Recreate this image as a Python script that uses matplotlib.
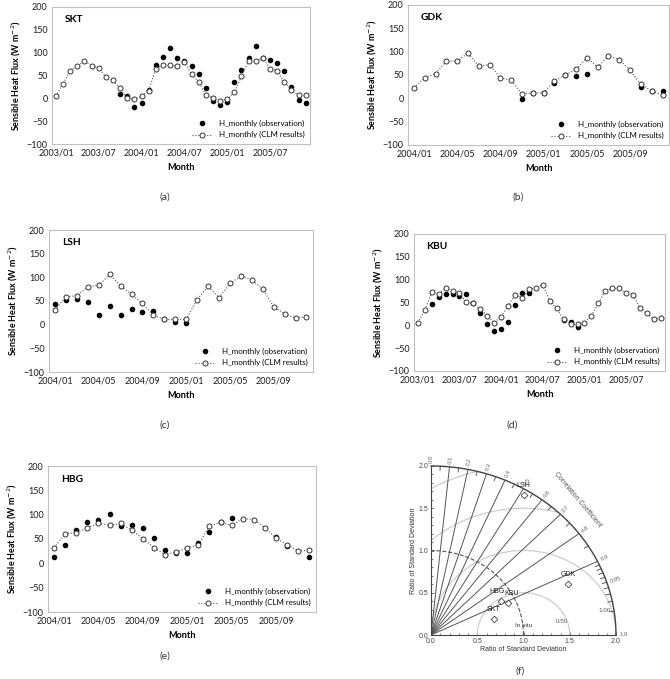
import numpy as np
import matplotlib
matplotlib.use("Agg")
import matplotlib.pyplot as plt

nan = np.nan

# --- Données : flux de chaleur sensible mensuel (W m-2) ---
skt_clm = [5, 32, 60, 70, 82, 71, 67, 46, 40, 22, 0, -2, 5, 17, 65, 72, 72, 71,
           80, 53, 36, 8, 0, -5, -2, 13, 48, 82, 82, 88, 65, 60, 35, 19, 7, 7]
skt_obs = [nan] * 9 + [9, 5, -19, -11, 18, 72, 91, 111, 89, 81, 70, 53, 22, -5,
                       -15, -7, 35, 63, 89, 115, 89, 84, 78, 60, 25, -4, -10]

gdk_clm = [23, 44, 53, 80, 80, 97, 69, 72, 44, 39, 9, 12, 12, 37, 50, 62, 87, 67,
           91, 83, 60, 30, 16, 7]
gdk_obs = [nan] * 10 + [-2, 12, 12, 32, 50, 48, 53, nan, nan, nan, nan, 25, 16, 16]

lsh_clm = [31, 59, 61, 80, 83, 106, 82, 64, 45, 20, 11, 11, 11, 53, 81, 57, 87, 103,
           95, 75, 38, 23, 14, 16]
lsh_obs = [43, 53, 54, 47, 21, 40, 21, 33, 26, 28, 11, 5, 4] + [nan] * 11

kbu_clm = [6, 33, 72, 68, 82, 75, 70, 51, 48, 35, 21, 6, 19, 42, 67, 60, 79, 82,
           89, 54, 37, 13, 2, 2, 6, 21, 48, 76, 81, 81, 70, 67, 38, 26, 13, 16]
kbu_obs = [nan, nan, 46, 62, 68, 68, 65, 68, 49, 27, 4, -12, -7, 8, 44, 70, 71,
           nan, nan, nan, nan, 11, 8, -3] + [nan] * 12

hbg_clm = [32, 61, 63, 73, 82, 78, 82, 68, 51, 32, 18, 23, 32, 38, 77, 84, 78, 92,
           90, 73, 52, 38, 25, 27]
hbg_obs = [13, 38, 68, 85, 90, 101, 77, 78, 73, 52, 27, 22, 22, 42, 64, 85, 94,
           nan, nan, nan, 55, 35, nan, 14]

labels_36 = ["2003/01", "2003/07", "2004/01", "2004/07", "2005/01", "2005/07"]
labels_24 = ["2004/01", "2004/05", "2004/09", "2005/01", "2005/05", "2005/09"]

# Taylor : ratio d'écart-type (composantes x, y)
stations = ["SKT", "GDK", "LSH", "KBU", "HBG"]
taylor_x = [0.68, 1.48, 1.00, 0.83, 0.756]
taylor_y = [0.19, 0.60, 1.66, 0.375, 0.40]
corr_labels = [0.0, 0.1, 0.2, 0.3, 0.4, 0.5, 0.6, 0.7, 0.8, 0.9, 0.95, 1.0]
rms_levels = [0.5, 1.0, 1.5, 2.0]

W, H = 670, 679
fig = plt.figure(figsize=(W / 100, H / 100), dpi=100)
FONT = "Lato"


def box(l, t, r, b):
    return [l / W, 1 - b / H, (r - l) / W, (b - t) / H]


def panel(rect, name, clm, obs, labels, step, caption, cap_xy):
    ax = fig.add_axes(rect)
    n = len(clm)
    x = np.arange(n)
    ax.plot(x, obs, "o", color="black", markersize=3.0, linestyle="none",
            label="H_monthly (observation)")
    ax.plot(x, clm, linestyle=":", color="#555555", linewidth=0.8,
            marker="o", markersize=3.6, markerfacecolor="white",
            markeredgecolor="#333333", markeredgewidth=0.7,
            label="H_monthly (CLM results)")
    ax.set_xlim(-0.55, n - 0.4)
    ax.set_ylim(-100, 200)
    ax.set_yticks(range(-100, 201, 50))
    ax.set_xticks(np.arange(0, n, step))
    ax.set_xticklabels(labels)
    for s in ax.spines.values():
        s.set_color("#c0c0c0")
        s.set_linewidth(0.8)
    ax.tick_params(length=0, labelsize=6.5, colors="#1a1a1a", pad=3)
    for t in ax.get_xticklabels() + ax.get_yticklabels():
        t.set_fontfamily(FONT)
    ax.set_ylabel("Sensible Heat Flux (W m$^{-2}$)", fontsize=6.4,
                  fontweight="bold", family=FONT, labelpad=3)
    ax.set_xlabel("Month", fontsize=6.6, fontweight="bold", family=FONT,
                  labelpad=4)
    ax.text(0.05, 0.91, name, transform=ax.transAxes, fontsize=7.3,
            fontweight="bold", family=FONT, va="center")
    ax.legend(loc="lower right", frameon=False,
              handlelength=2.6, borderaxespad=0.3, labelspacing=0.55,
              prop={"family": FONT, "size": 5.7})
    fig.text(cap_xy[0] / W, 1 - cap_xy[1] / H, caption, fontsize=7.5,
             family=FONT, color="#333333", ha="center", va="center")
    return ax


panel(box(52, 7, 310, 144), "SKT", skt_clm, skt_obs, labels_36, 6, "(a)", (165, 197))
panel(box(408, 5, 669, 145), "GDK", gdk_clm, gdk_obs, labels_24, 4, "(b)", (518, 197))
panel(box(49, 230, 313, 372), "LSH", lsh_clm, lsh_obs, labels_24, 4, "(c)", (165, 425))
panel(box(414, 234, 665, 371), "KBU", kbu_clm, kbu_obs, labels_36, 6, "(d)", (512, 425))
panel(box(48, 466, 316, 612), "HBG", hbg_clm, hbg_obs, labels_24, 4, "(e)", (165, 656))

# ============================================
# Diagramme de Taylor (f)
# ============================================
TF = "Liberation Sans"
ax = fig.add_axes(box(431, 466, 616, 635))
ax.set_xlim(0, 2)
ax.set_ylim(0, 2)
ax.spines["top"].set_visible(False)
ax.spines["right"].set_visible(False)
for s in ("left", "bottom"):
    ax.spines[s].set_linewidth(0.8)
    ax.spines[s].set_color("#444444")
ax.set_xticks([0, 0.5, 1.0, 1.5, 2.0])
ax.set_yticks([0, 0.5, 1.0, 1.5, 2.0])
ax.set_xticklabels(["0.0", "0.5", "1.0", "1.5", "2.0"])
ax.set_yticklabels(["0.0", "0.5", "1.0", "1.5", "2.0"])
ax.set_xticks(np.arange(0, 2.01, 0.1), minor=True)
ax.set_yticks(np.arange(0, 2.01, 0.1), minor=True)
ax.tick_params(which="both", direction="in", labelsize=5, colors="#444444",
               length=2.5, width=0.5, pad=2)
ax.tick_params(which="minor", length=1.5)
for t in ax.get_xticklabels() + ax.get_yticklabels():
    t.set_fontfamily(TF)
ax.set_xlabel("Ratio of Standard Deviation", fontsize=5, family=TF,
              color="#333333", labelpad=1)
ax.set_ylabel("Ratio of Standard Deviation", fontsize=5, family=TF,
              color="#333333", labelpad=1)

th = np.linspace(0, np.pi / 2, 300)
# arcs RMS (centrés sur l'écart-type de référence)
ph = np.linspace(0, np.pi, 600)
for r in rms_levels:
    xs = 1 + r * np.cos(ph)
    ys = r * np.sin(ph)
    keep = (xs ** 2 + ys ** 2 <= 4.0) & (xs >= 0)
    ax.plot(np.where(keep, xs, nan), np.where(keep, ys, nan),
            color="#c8c8c8", linewidth=0.8)
ax.text(1.42, 0.14, "0.50", fontsize=4.5, family=TF, color="#555555", ha="center")
ax.text(1.88, 0.27, "1.00", fontsize=4.5, family=TF, color="#555555", ha="center")

# cercle de référence en tirets
ax.plot(np.cos(th), np.sin(th), linestyle="--", color="#555555", linewidth=0.8)
# arc extérieur
ax.plot(2 * np.cos(th), 2 * np.sin(th), color="#444444", linewidth=1.0,
        clip_on=False)

# lignes de corrélation
for c in np.arange(0.1, 0.91, 0.1):
    s = np.sqrt(1 - c ** 2)
    ax.plot([0, 2 * c], [0, 2 * s], color="#555555", linewidth=0.7)
# petites graduations sur l'arc
ticks = list(np.arange(0.05, 0.9, 0.1)) + list(np.arange(0.91, 1.0, 0.01))
for c in ticks:
    s = np.sqrt(1 - c ** 2)
    ax.plot([1.95 * c, 2 * c], [1.95 * s, 2 * s], color="#444444",
            linewidth=0.6, clip_on=False)
for c in corr_labels:
    ang = np.arccos(c)
    lab = "%.2f" % c if c == 0.95 else "%.1f" % c
    ax.text(2.04 * np.cos(ang), 2.04 * np.sin(ang), lab, fontsize=4.2,
            family=TF, color="#666666", rotation=np.degrees(ang),
            rotation_mode="anchor", ha="left", va="center", clip_on=False)
ax.text(1.58, 1.6, "Correlation Coefficient", fontsize=5, family=TF,
        color="#555555", rotation=-50, ha="center", va="center")

ax.plot(taylor_x, taylor_y, "D", markersize=3.4, markerfacecolor="white",
        markeredgecolor="#444444", markeredgewidth=0.6, clip_on=False)
label_ha = {"SKT": "center", "GDK": "center", "LSH": "center",
            "KBU": "left", "HBG": "right"}
label_dx = {"SKT": 0, "GDK": 0, "LSH": 0, "KBU": -0.04, "HBG": 0.04}
for name, tx, ty in zip(stations, taylor_x, taylor_y):
    ax.text(tx + label_dx[name], ty + 0.07, name, fontsize=5, family=TF,
            color="#222222", ha=label_ha[name], va="bottom")
ax.text(1.0, 0.08, "In situ", fontsize=4.6, family=TF, color="#333333",
        ha="center", va="bottom")

fig.text(520 / W, 1 - 671 / H, "(f)", fontsize=7.5, family=FONT,
         color="#333333", ha="center", va="center")

fig.savefig("out.png", dpi=100)
